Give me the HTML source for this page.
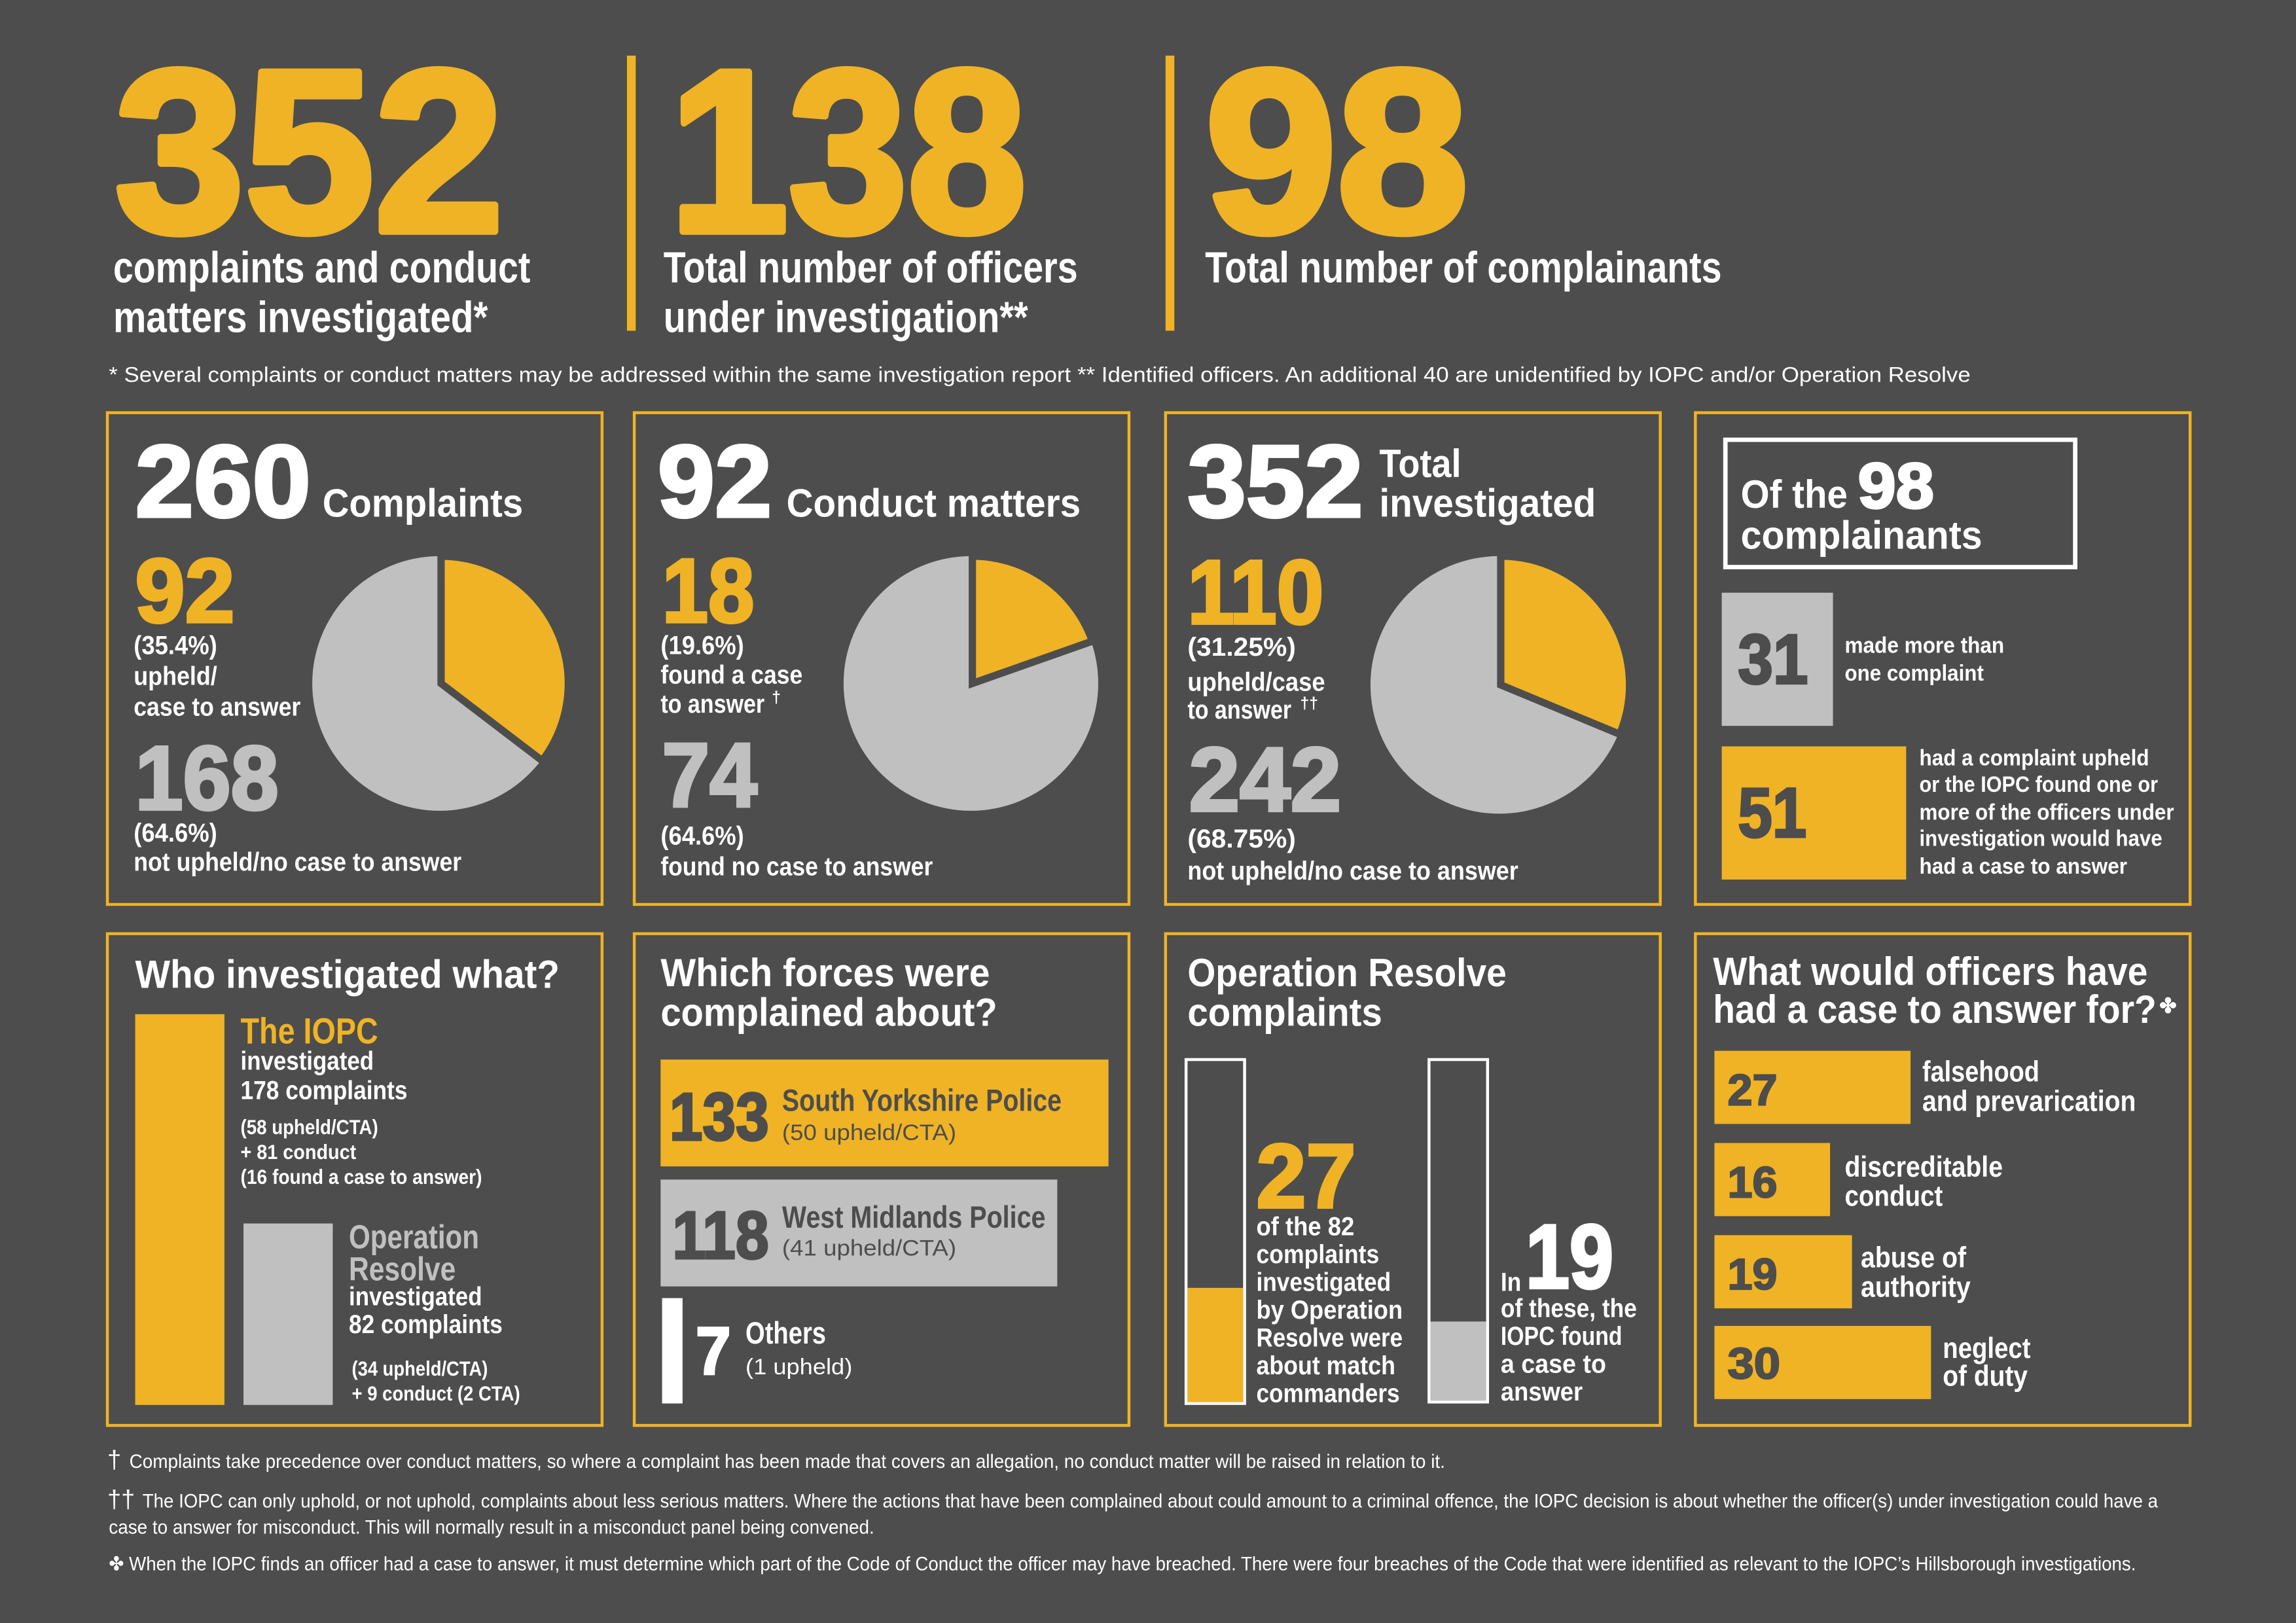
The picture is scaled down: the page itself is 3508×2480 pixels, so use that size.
<!DOCTYPE html>
<html><head><meta charset="utf-8"><style>
html,body{margin:0;padding:0;background:#4d4d4d;}
svg{display:block}
.n{font-family:"Liberation Sans",sans-serif;font-weight:bold;}
.b{font-family:"Liberation Sans",sans-serif;font-weight:bold;}
.r{font-family:"Liberation Sans",sans-serif;}
</style></head><body>
<svg width="3508" height="2480" viewBox="0 0 1568 1109" xmlns="http://www.w3.org/2000/svg">
<rect width="1568" height="1109" fill="#4d4d4d"/>
<g fill="#efb325" stroke="#efb325" stroke-width="5" stroke-linejoin="round" class="b" font-size="158">
<text x="78" y="158" textLength="266" lengthAdjust="spacingAndGlyphs">352</text>
<text x="457" y="158" textLength="244" lengthAdjust="spacingAndGlyphs">138</text>
<text x="823" y="158" textLength="180" lengthAdjust="spacingAndGlyphs">98</text>
</g>
<rect x="428" y="38" width="6" height="188" fill="#efb325"/>
<rect x="796" y="38" width="6" height="188" fill="#efb325"/>
<g fill="#fff" class="n" font-size="30">
<text x="77" y="193" textLength="285" lengthAdjust="spacingAndGlyphs">complaints and conduct</text>
<text x="77" y="227" textLength="256" lengthAdjust="spacingAndGlyphs">matters investigated*</text>
<text x="453" y="193" textLength="283" lengthAdjust="spacingAndGlyphs">Total number of officers</text>
<text x="453" y="227" textLength="249" lengthAdjust="spacingAndGlyphs">under investigation**</text>
<text x="823" y="193" textLength="353" lengthAdjust="spacingAndGlyphs">Total number of complainants</text>
</g>
<text x="74" y="261" fill="#fff" class="r" font-size="14.3" textLength="1272" lengthAdjust="spacingAndGlyphs">* Several complaints or conduct matters may be addressed within the same investigation report  ** Identified officers. An additional 40 are unidentified by IOPC and/or Operation Resolve</text>

<g fill="none" stroke="#efb325" stroke-width="2">
<rect x="73" y="282" width="338" height="336"/>
<rect x="433" y="282" width="338" height="336"/>
<rect x="796" y="282" width="338" height="336"/>
<rect x="1158" y="282" width="338" height="336"/>
<rect x="73" y="638" width="338" height="336"/>
<rect x="433" y="638" width="338" height="336"/>
<rect x="796" y="638" width="338" height="336"/>
<rect x="1158" y="638" width="338" height="336"/>
</g>

<!-- Box 1 -->
<text x="92" y="353" fill="#fff" stroke="#fff" stroke-width="2" class="b" font-size="70" textLength="120" lengthAdjust="spacingAndGlyphs">260</text>
<text x="220" y="353" fill="#fff" class="n" font-size="27" textLength="137" lengthAdjust="spacingAndGlyphs">Complaints</text>
<text x="92" y="425" fill="#efb325" stroke="#efb325" stroke-width="2" class="b" font-size="62" textLength="68" lengthAdjust="spacingAndGlyphs">92</text>
<g fill="#fff" class="n" font-size="18">
<text x="91" y="447" textLength="57" lengthAdjust="spacingAndGlyphs">(35.4%)</text>
<text x="91" y="468" textLength="57" lengthAdjust="spacingAndGlyphs">upheld/</text>
<text x="91" y="489" textLength="114" lengthAdjust="spacingAndGlyphs">case to answer</text>
<text x="91" y="575" textLength="57" lengthAdjust="spacingAndGlyphs">(64.6%)</text>
<text x="91" y="595" textLength="224" lengthAdjust="spacingAndGlyphs">not upheld/no case to answer</text></g>
<text x="92" y="553" fill="#c0c0c0" stroke="#c0c0c0" stroke-width="2" class="b" font-size="62" textLength="98" lengthAdjust="spacingAndGlyphs">168</text>
<circle cx="300" cy="467" r="87" fill="#c0c0c0"/>
<path d="M301 467 L301 380 A87 87 0 0 1 370.1 519.8 Z" fill="#efb325" stroke="#4d4d4d" stroke-width="5"/>

<!-- Box 2 -->
<text x="449" y="353" fill="#fff" stroke="#fff" stroke-width="2" class="b" font-size="70" textLength="78" lengthAdjust="spacingAndGlyphs">92</text>
<text x="537" y="353" fill="#fff" class="n" font-size="27" textLength="201" lengthAdjust="spacingAndGlyphs">Conduct matters</text>
<text x="452" y="425" fill="#efb325" stroke="#efb325" stroke-width="2" class="b" font-size="62" textLength="63" lengthAdjust="spacingAndGlyphs">18</text>
<g fill="#fff" class="n" font-size="18">
<text x="451" y="447" textLength="57" lengthAdjust="spacingAndGlyphs">(19.6%)</text>
<text x="451" y="467" textLength="97" lengthAdjust="spacingAndGlyphs">found a case</text>
<text x="451" y="487" textLength="71" lengthAdjust="spacingAndGlyphs">to answer</text>
<text x="527" y="480" font-size="11">†</text>
<text x="451" y="577" textLength="57" lengthAdjust="spacingAndGlyphs">(64.6%)</text>
<text x="451" y="598" textLength="186" lengthAdjust="spacingAndGlyphs">found no case to answer</text></g>
<text x="452" y="551" fill="#c0c0c0" stroke="#c0c0c0" stroke-width="2" class="b" font-size="62" textLength="65" lengthAdjust="spacingAndGlyphs">74</text>
<circle cx="663" cy="467" r="87" fill="#c0c0c0"/>
<path d="M664 467 L664 380 A87 87 0 0 1 746 438.1 Z" fill="#efb325" stroke="#4d4d4d" stroke-width="5"/>

<!-- Box 3 -->
<text x="811" y="353" fill="#fff" stroke="#fff" stroke-width="2" class="b" font-size="70" textLength="120" lengthAdjust="spacingAndGlyphs">352</text>
<g fill="#fff" class="n" font-size="27">
<text x="942" y="326" textLength="56" lengthAdjust="spacingAndGlyphs">Total</text>
<text x="942" y="353" textLength="148" lengthAdjust="spacingAndGlyphs">investigated</text></g>
<text x="811" y="426" fill="#efb325" stroke="#efb325" stroke-width="2" class="b" font-size="62" textLength="93" lengthAdjust="spacingAndGlyphs">110</text>
<g fill="#fff" class="n" font-size="18">
<text x="811" y="448" textLength="74" lengthAdjust="spacingAndGlyphs">(31.25%)</text>
<text x="811" y="472" textLength="94" lengthAdjust="spacingAndGlyphs">upheld/case</text>
<text x="811" y="491" textLength="71" lengthAdjust="spacingAndGlyphs">to answer</text>
<text x="888" y="484" font-size="11">††</text>
<text x="811" y="579" textLength="74" lengthAdjust="spacingAndGlyphs">(68.75%)</text>
<text x="811" y="601" textLength="226" lengthAdjust="spacingAndGlyphs">not upheld/no case to answer</text></g>
<text x="812" y="554" fill="#c0c0c0" stroke="#c0c0c0" stroke-width="2" class="b" font-size="62" textLength="104" lengthAdjust="spacingAndGlyphs">242</text>
<circle cx="1024" cy="468" r="88" fill="#c0c0c0"/>
<path d="M1025 468 L1025 380 A88 88 0 0 1 1106.3 501.7 Z" fill="#efb325" stroke="#4d4d4d" stroke-width="5"/>

<!-- Box 4 -->
<rect x="1178.5" y="300.5" width="239" height="87" fill="none" stroke="#fff" stroke-width="3"/>
<text x="1189" y="347" fill="#fff" class="n" font-size="27" textLength="73" lengthAdjust="spacingAndGlyphs">Of the</text>
<text x="1269" y="347" fill="#fff" stroke="#fff" stroke-width="1.5" class="b" font-size="44" textLength="52" lengthAdjust="spacingAndGlyphs">98</text>
<text x="1189" y="375" fill="#fff" class="n" font-size="27" textLength="165" lengthAdjust="spacingAndGlyphs">complainants</text>
<rect x="1176" y="405" width="76" height="91" fill="#c0c0c0"/>
<text x="1187" y="467" fill="#4d4d4d" stroke="#4d4d4d" stroke-width="1.5" class="b" font-size="48" textLength="48" lengthAdjust="spacingAndGlyphs">31</text>
<g fill="#fff" class="n" font-size="15.5">
<text x="1260" y="446" textLength="109" lengthAdjust="spacingAndGlyphs">made more than</text>
<text x="1260" y="465" textLength="95" lengthAdjust="spacingAndGlyphs">one complaint</text></g>
<rect x="1176" y="510" width="126" height="91" fill="#efb325"/>
<text x="1187" y="572" fill="#4d4d4d" stroke="#4d4d4d" stroke-width="1.5" class="b" font-size="48" textLength="47" lengthAdjust="spacingAndGlyphs">51</text>
<g fill="#fff" class="n" font-size="15.5">
<text x="1311" y="523" textLength="157" lengthAdjust="spacingAndGlyphs">had a complaint upheld</text>
<text x="1311" y="541" textLength="163" lengthAdjust="spacingAndGlyphs">or the IOPC found one or</text>
<text x="1311" y="560" textLength="174" lengthAdjust="spacingAndGlyphs">more of the officers under</text>
<text x="1311" y="578" textLength="166" lengthAdjust="spacingAndGlyphs">investigation would have</text>
<text x="1311" y="597" textLength="142" lengthAdjust="spacingAndGlyphs">had a case to answer</text></g>

<!-- Row 2 Box 1 -->
<text x="92" y="675" fill="#fff" class="n" font-size="27" textLength="290" lengthAdjust="spacingAndGlyphs">Who investigated what?</text>
<rect x="92" y="693" width="61" height="267" fill="#efb325"/>
<text x="164" y="713" fill="#efb325" class="n" font-size="25" textLength="94" lengthAdjust="spacingAndGlyphs">The IOPC</text>
<g fill="#fff" class="n" font-size="18">
<text x="164" y="731" textLength="91" lengthAdjust="spacingAndGlyphs">investigated</text>
<text x="164" y="751" textLength="114" lengthAdjust="spacingAndGlyphs">178 complaints</text></g>
<g fill="#fff" class="n" font-size="14">
<text x="164" y="775" textLength="94" lengthAdjust="spacingAndGlyphs">(58 upheld/CTA)</text>
<text x="164" y="792" textLength="79" lengthAdjust="spacingAndGlyphs">+ 81 conduct</text>
<text x="164" y="809" textLength="165" lengthAdjust="spacingAndGlyphs">(16 found a case to answer)</text></g>
<rect x="166" y="836" width="61" height="124" fill="#c0c0c0"/>
<g fill="#c0c0c0" class="n" font-size="23">
<text x="238" y="853" textLength="89" lengthAdjust="spacingAndGlyphs">Operation</text>
<text x="238" y="875" textLength="73" lengthAdjust="spacingAndGlyphs">Resolve</text></g>
<g fill="#fff" class="n" font-size="18">
<text x="238" y="892" textLength="91" lengthAdjust="spacingAndGlyphs">investigated</text>
<text x="238" y="911" textLength="105" lengthAdjust="spacingAndGlyphs">82 complaints</text></g>
<g fill="#fff" class="n" font-size="14">
<text x="240" y="940" textLength="93" lengthAdjust="spacingAndGlyphs">(34 upheld/CTA)</text>
<text x="240" y="957" textLength="115" lengthAdjust="spacingAndGlyphs">+ 9 conduct (2 CTA)</text></g>

<!-- Row 2 Box 2 -->
<g fill="#fff" class="n" font-size="27">
<text x="451" y="674" textLength="225" lengthAdjust="spacingAndGlyphs">Which forces were</text>
<text x="451" y="701" textLength="230" lengthAdjust="spacingAndGlyphs">complained about?</text></g>
<rect x="451" y="724" width="306" height="73" fill="#efb325"/>
<text x="457" y="779" fill="#4d4d4d" stroke="#4d4d4d" stroke-width="1.5" class="b" font-size="46" textLength="68" lengthAdjust="spacingAndGlyphs">133</text>
<text x="534" y="759" fill="#4d4d4d" class="n" font-size="21" textLength="191" lengthAdjust="spacingAndGlyphs">South Yorkshire Police</text>
<text x="534" y="779" fill="#4d4d4d" class="r" font-size="15.5" textLength="119" lengthAdjust="spacingAndGlyphs">(50 upheld/CTA)</text>
<rect x="451" y="806" width="271" height="73" fill="#c0c0c0"/>
<text x="459" y="860" fill="#4d4d4d" stroke="#4d4d4d" stroke-width="1.5" class="b" font-size="46" textLength="66" lengthAdjust="spacingAndGlyphs">118</text>
<text x="534" y="839" fill="#4d4d4d" class="n" font-size="21" textLength="180" lengthAdjust="spacingAndGlyphs">West Midlands Police</text>
<text x="534" y="858" fill="#4d4d4d" class="r" font-size="15.5" textLength="119" lengthAdjust="spacingAndGlyphs">(41 upheld/CTA)</text>
<rect x="452" y="887" width="14" height="72" fill="#fff"/>
<text x="475" y="939" fill="#fff" stroke="#fff" stroke-width="1.5" class="b" font-size="46" textLength="24" lengthAdjust="spacingAndGlyphs">7</text>
<text x="509" y="918" fill="#fff" class="n" font-size="21" textLength="55" lengthAdjust="spacingAndGlyphs">Others</text>
<text x="509" y="939" fill="#fff" class="r" font-size="15.5" textLength="73" lengthAdjust="spacingAndGlyphs">(1 upheld)</text>

<!-- Row 2 Box 3 -->
<g fill="#fff" class="n" font-size="27">
<text x="811" y="674" textLength="218" lengthAdjust="spacingAndGlyphs">Operation Resolve</text>
<text x="811" y="701" textLength="133" lengthAdjust="spacingAndGlyphs">complaints</text></g>
<rect x="810" y="724" width="40" height="235" fill="none" stroke="#fff" stroke-width="2"/>
<rect x="811" y="880" width="38" height="78" fill="#efb325"/>
<text x="858" y="825" fill="#efb325" stroke="#efb325" stroke-width="2" class="b" font-size="62" textLength="68" lengthAdjust="spacingAndGlyphs">27</text>
<g fill="#fff" class="n" font-size="18">
<text x="858" y="844" textLength="67" lengthAdjust="spacingAndGlyphs">of the 82</text>
<text x="858" y="863" textLength="84" lengthAdjust="spacingAndGlyphs">complaints</text>
<text x="858" y="882" textLength="92" lengthAdjust="spacingAndGlyphs">investigated</text>
<text x="858" y="901" textLength="100" lengthAdjust="spacingAndGlyphs">by Operation</text>
<text x="858" y="920" textLength="100" lengthAdjust="spacingAndGlyphs">Resolve were</text>
<text x="858" y="939" textLength="95" lengthAdjust="spacingAndGlyphs">about match</text>
<text x="858" y="958" textLength="98" lengthAdjust="spacingAndGlyphs">commanders</text></g>
<rect x="976" y="724" width="40" height="234" fill="none" stroke="#fff" stroke-width="2"/>
<rect x="977" y="903" width="38" height="54" fill="#c0c0c0"/>
<text x="1025" y="882" fill="#fff" class="n" font-size="18" textLength="14" lengthAdjust="spacingAndGlyphs">In</text>
<text x="1042" y="880" fill="#fff" stroke="#fff" stroke-width="2" class="b" font-size="62" textLength="60" lengthAdjust="spacingAndGlyphs">19</text>
<g fill="#fff" class="n" font-size="18">
<text x="1025" y="900" textLength="93" lengthAdjust="spacingAndGlyphs">of these, the</text>
<text x="1025" y="919" textLength="83" lengthAdjust="spacingAndGlyphs">IOPC found</text>
<text x="1025" y="938" textLength="72" lengthAdjust="spacingAndGlyphs">a case to</text>
<text x="1025" y="957" textLength="56" lengthAdjust="spacingAndGlyphs">answer</text></g>

<!-- Row 2 Box 4 -->
<g fill="#fff" class="n" font-size="27">
<text x="1170" y="673" textLength="297" lengthAdjust="spacingAndGlyphs">What would officers have</text>
<text x="1170" y="699" textLength="303" lengthAdjust="spacingAndGlyphs">had a case to answer for?</text>
<text x="1475" y="692" font-size="14">✤</text></g>
<rect x="1171" y="718" width="134" height="50" fill="#efb325"/>
<rect x="1171" y="781" width="79" height="50" fill="#efb325"/>
<rect x="1171" y="844" width="94" height="50" fill="#efb325"/>
<rect x="1171" y="906" width="148" height="50" fill="#efb325"/>
<g fill="#4d4d4d" stroke="#4d4d4d" stroke-width="1" class="b" font-size="30">
<text x="1180" y="755" textLength="34" lengthAdjust="spacingAndGlyphs">27</text>
<text x="1180" y="818" textLength="34" lengthAdjust="spacingAndGlyphs">16</text>
<text x="1180" y="881" textLength="34" lengthAdjust="spacingAndGlyphs">19</text>
<text x="1180" y="942" textLength="36" lengthAdjust="spacingAndGlyphs">30</text></g>
<g fill="#fff" class="n" font-size="20">
<text x="1313" y="739" textLength="80" lengthAdjust="spacingAndGlyphs">falsehood</text>
<text x="1313" y="759" textLength="146" lengthAdjust="spacingAndGlyphs">and prevarication</text>
<text x="1260" y="804" textLength="108" lengthAdjust="spacingAndGlyphs">discreditable</text>
<text x="1260" y="824" textLength="67" lengthAdjust="spacingAndGlyphs">conduct</text>
<text x="1271" y="866" textLength="72" lengthAdjust="spacingAndGlyphs">abuse of</text>
<text x="1271" y="886" textLength="75" lengthAdjust="spacingAndGlyphs">authority</text>
<text x="1327" y="928" textLength="60" lengthAdjust="spacingAndGlyphs">neglect</text>
<text x="1327" y="947" textLength="58" lengthAdjust="spacingAndGlyphs">of duty</text></g>

<!-- Footnotes -->
<g fill="#fff" class="r" font-size="13.2">
<text x="73" y="1003" font-size="17">†</text>
<text x="88" y="1003" textLength="899" lengthAdjust="spacingAndGlyphs">Complaints take precedence over conduct matters, so where a complaint has been made that covers an allegation, no conduct matter will be raised in relation to it.</text>
<text x="73" y="1030" font-size="17">††</text>
<text x="97" y="1030" textLength="1377" lengthAdjust="spacingAndGlyphs">The IOPC can only uphold, or not uphold, complaints about less serious matters. Where the actions that have been complained about could amount to a criminal offence, the IOPC decision is about whether the officer(s) under investigation could have a</text>
<text x="74" y="1048" textLength="523" lengthAdjust="spacingAndGlyphs">case to answer for misconduct. This will normally result in a misconduct panel being convened.</text>
<text x="74" y="1073" textLength="1385" lengthAdjust="spacingAndGlyphs">✤ When the IOPC finds an officer had a case to answer, it must determine which part of the Code of Conduct the officer may have breached. There were four breaches of the Code that were identified as relevant to the IOPC’s Hillsborough investigations.</text>
</g>
</svg>
</body></html>
